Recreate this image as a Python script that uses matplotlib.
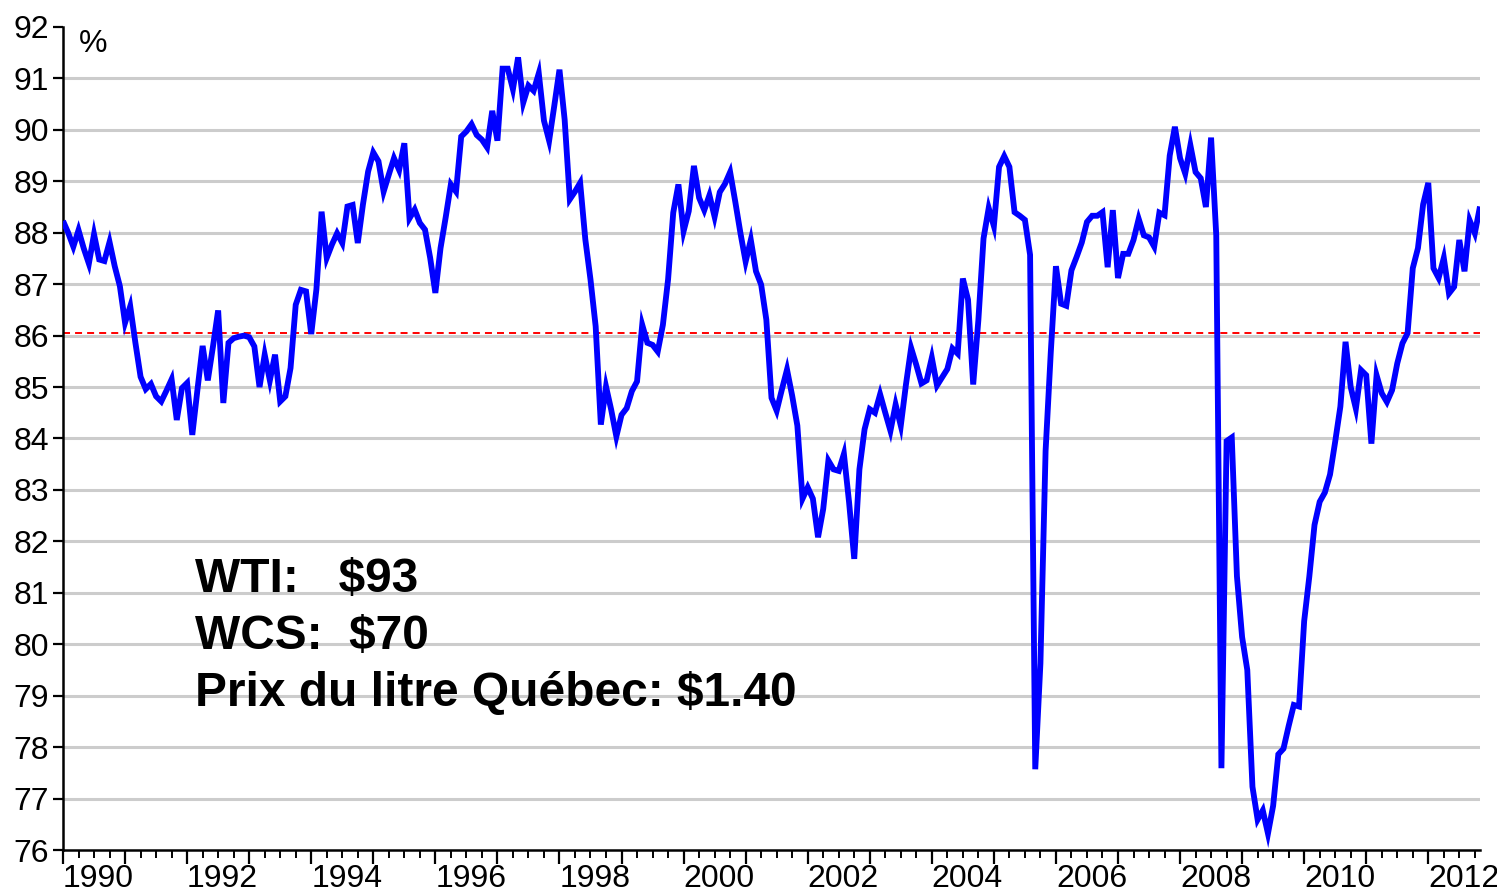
"""
Capacity utilisation (%) of refineries, monthly 1990-2012, with the
long-run average as a red dashed reference line and a price box.
"""

import matplotlib

matplotlib.use("Agg")
import matplotlib.pyplot as plt
import numpy as np
from matplotlib.ticker import FixedLocator, MultipleLocator


# ── data (monthly, Jan 1990 onwards) ──────────────────────────────────────────

START_YEAR = 1990

rate_1990_1994 = [
  88.23, 88.00, 87.73, 88.05, 87.70, 87.40, 87.97, 87.48, 87.45, 87.82, 87.35, 86.96,
  86.25, 86.57, 85.86, 85.20, 84.96, 85.06, 84.82, 84.72, 84.93, 85.15, 84.36, 84.98,
  85.08, 84.07, 84.95, 85.80, 85.13, 85.79, 86.49, 84.69, 85.86, 85.95, 85.98, 86.00,
  85.97, 85.79, 85.00, 85.63, 85.13, 85.63, 84.72, 84.82, 85.37, 86.60, 86.89, 86.86,
  86.03, 86.90, 88.41, 87.51, 87.77, 87.99, 87.80, 88.51, 88.54, 87.80, 88.55, 89.19,
]
rate_1995_1999 = [
  89.56, 89.39, 88.80, 89.13, 89.45, 89.22, 89.74, 88.28, 88.45, 88.19, 88.06, 87.51,
  86.83, 87.70, 88.30, 88.94, 88.80, 89.87, 89.97, 90.11, 89.90, 89.81, 89.66, 90.37,
  89.79, 91.19, 91.19, 90.79, 91.41, 90.53, 90.86, 90.76, 91.10, 90.18, 89.79, 90.47,
  91.17, 90.20, 88.65, 88.80, 88.97, 87.87, 87.09, 86.18, 84.27, 85.01, 84.56, 84.04,
  84.46, 84.59, 84.92, 85.11, 86.21, 85.86, 85.82, 85.69, 86.21, 87.09, 88.39, 88.94,
]
rate_2000_2004 = [
  88.03, 88.42, 89.30, 88.68, 88.44, 88.73, 88.31, 88.79, 88.95, 89.18, 88.60, 87.99,
  87.44, 87.86, 87.25, 86.99, 86.31, 84.79, 84.54, 84.95, 85.34, 84.83, 84.25, 82.83,
  83.05, 82.83, 82.08, 82.63, 83.57, 83.40, 83.37, 83.70, 82.76, 81.66, 83.40, 84.18,
  84.57, 84.50, 84.86, 84.50, 84.15, 84.66, 84.25, 85.05, 85.76, 85.43, 85.07, 85.13,
  85.57, 85.03, 85.19, 85.35, 85.75, 85.65, 87.11, 86.70, 85.05, 86.30, 87.89, 88.48,
]
rate_2005_2009 = [
  88.13, 89.28, 89.49, 89.28, 88.40, 88.33, 88.25, 87.57, 77.57, 79.63, 83.76, 85.67,
  87.35, 86.62, 86.58, 87.27, 87.53, 87.81, 88.21, 88.33, 88.33, 88.40, 87.33, 88.44,
  87.12, 87.59, 87.59, 87.86, 88.27, 87.95, 87.91, 87.73, 88.39, 88.34, 89.50, 90.06,
  89.45, 89.15, 89.70, 89.18, 89.06, 88.50, 89.85, 87.95, 77.59, 83.95, 84.02, 81.32,
  80.14, 79.50, 77.23, 76.59, 76.77, 76.32, 76.86, 77.86, 77.97, 78.41, 78.82, 78.79,
]
rate_2010_2012 = [
  80.45, 81.32, 82.32, 82.77, 82.95, 83.30, 83.94, 84.62, 85.88, 85.00, 84.58, 85.33,
  85.23, 83.90, 85.23, 84.88, 84.71, 84.94, 85.46, 85.85, 86.05, 87.31, 87.70, 88.55,
  88.97, 87.31, 87.12, 87.51, 86.82, 86.95, 87.86, 87.25, 88.24, 87.99, 88.51,
]

average_rate = 86.05

price_lines = ["WTI:   $93", "WCS:  $70", "Prix du litre Québec: $1.40"]

y_ticks = list(range(76, 93))
label_years = list(range(1990, 2013, 2))


# ── plotting ──────────────────────────────────────────────────────────────────

TICK_FONT = ["Liberation Sans Narrow", "Liberation Sans", "DejaVu Sans"]
BOLD_FONT = ["Liberation Sans", "DejaVu Sans"]


def main() -> None:
  rate = np.array(rate_1990_1994 + rate_1995_1999 + rate_2000_2004
                  + rate_2005_2009 + rate_2010_2012)
  t = START_YEAR + np.arange(len(rate)) / 12.0

  fig = plt.figure(figsize=(14.97, 8.96), dpi=100)
  ax = fig.add_axes([63 / 1497, 1 - 850 / 896, (1480 - 63) / 1497, (850 - 27) / 896])

  # grid (no line on the top value, the bottom one is the axis)
  for v in y_ticks[1:-1]:
    ax.axhline(v, color="#cccccc", linewidth=2.2, zorder=1)

  ax.axhline(average_rate, color="#ff0000", linewidth=1.4,
             dashes=(3.6, 2.6), zorder=2)
  ax.plot(t, rate, color="#0000ff", linewidth=4.2, solid_joinstyle="miter",
          solid_capstyle="butt", zorder=3)

  ax.set_xlim(t[0], t[-1])
  ax.set_ylim(76, 92)

  for side in ("top", "right"):
    ax.spines[side].set_visible(False)
  for side in ("left", "bottom"):
    ax.spines[side].set_linewidth(1.8)

  # y axis
  ax.yaxis.set_major_locator(FixedLocator(y_ticks))
  ax.tick_params(axis="y", direction="out", length=7, width=1.6, pad=3,
                 labelsize=23)
  for lab in ax.get_yticklabels():
    lab.set_family(TICK_FONT)

  # x axis: tall ticks every year, short every quarter, labels on even years
  years = list(range(1990, 2013))
  ax.xaxis.set_major_locator(FixedLocator(years))
  ax.xaxis.set_minor_locator(MultipleLocator(0.25))
  ax.set_xticklabels([str(y) if y in label_years else "" for y in years])
  ax.tick_params(axis="x", which="major", direction="out", length=10, width=1.6,
                 pad=0, labelsize=23)
  ax.tick_params(axis="x", which="minor", direction="out", length=6, width=1.4)
  for lab in ax.get_xticklabels():
    lab.set_family(TICK_FONT)
    lab.set_horizontalalignment("left")

  ax.text(0.011, 0.998, "%", transform=ax.transAxes, ha="left", va="top",
          fontsize=23, family=TICK_FONT)

  # price box
  for i, line in enumerate(price_lines):
    ax.text(1992.13, 81.02 - 1.11 * i, line, ha="left", va="baseline",
            fontsize=34.5, fontweight="bold", family=BOLD_FONT, zorder=4)

  fig.savefig("out.png", dpi=100)
  plt.close(fig)


if __name__ == "__main__":
  main()
